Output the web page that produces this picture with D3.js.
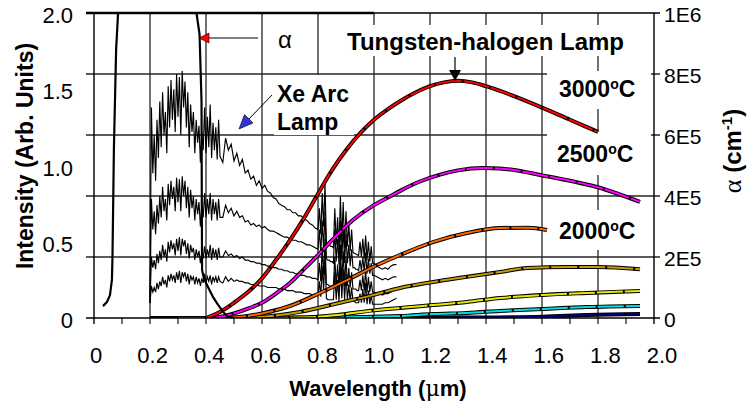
<!DOCTYPE html>
<html><head><meta charset="utf-8">
<script src="https://cdn.jsdelivr.net/npm/d3@7"></script>
<style>
html,body{margin:0;padding:0;background:#fff;}
svg{display:block;}
text{font-family:"Liberation Sans",Arial,sans-serif;fill:#000;}
</style></head><body>
<svg id="chart" width="748" height="406"></svg>
<script>
// ---------- DATA ----------
const xTickValues = [0,0.2,0.4,0.6,0.8,1.0,1.2,1.4,1.6,1.8,2.0];
const xTickLabels = ["0","0.2","0.4","0.6","0.8","1.0","1.2","1.4","1.6","1.8","2.0"];
const xMinorTicks = [0.1,0.3,0.5,0.7,0.9,1.1,1.3,1.5,1.7,1.9];
const leftTickValues = [0,0.5,1.0,1.5,2.0];
const leftTickLabels = ["0","0.5","1.0","1.5","2.0"];
const rightTickValues = [0,2e5,4e5,6e5,8e5,1e6];
const rightTickLabels = ["0","2E5","4E5","6E5","8E5","1E6"];

// Xe arc lamp spectra (wavelength µm, intensity arb. units)
const xeWavelength = [
 0.200,0.205,0.210,0.215,0.220,0.225,0.230,0.235,0.240,0.245,0.250,0.255,0.260,0.265,0.270,0.275,0.280,0.285,0.290,0.295,0.300,0.305,0.310,0.315,0.320,0.325,0.330,0.335,0.340,0.345,0.350,0.355,0.360,0.365,0.370,0.375,0.380,0.385,0.390,0.395,0.400,0.405,0.410,0.415,0.420,0.425,0.430,0.435,0.440,0.445,0.450,
 0.46,0.47,0.48,0.49,0.50,0.51,0.52,0.53,0.54,0.55,0.56,0.57,0.58,0.59,0.60,0.61,0.62,0.63,0.64,0.65,0.66,0.67,0.68,0.69,0.70,0.71,0.72,0.73,0.74,0.75,0.76,0.77,0.78,0.79,
 0.800,0.805,0.810,0.815,0.820,0.825,0.830,0.835,0.840,0.845,0.850,0.855,0.860,0.865,0.870,0.875,0.880,0.885,0.890,0.895,0.900,0.905,0.910,0.915,0.920,0.925,0.930,0.935,0.940,0.945,0.950,0.955,0.960,0.965,0.970,0.975,0.980,0.985,0.990,0.995,1.000,
 1.01,1.02,1.03,1.04,1.05,1.06,1.07,1.08];
const xe1 = [
 0.12,1.38,0.95,1.20,0.90,1.30,1.05,1.42,1.12,1.48,1.20,1.35,1.08,1.52,1.25,1.56,1.30,1.50,1.22,1.60,1.32,1.58,1.20,1.62,1.38,1.55,1.25,1.48,1.12,1.40,1.22,1.35,1.08,1.30,1.15,1.26,1.02,1.22,1.10,1.38,1.08,1.32,1.12,1.40,1.05,1.28,1.10,1.25,1.04,1.30,1.06,
 1.02,1.18,1.10,1.14,1.03,1.08,1.00,1.04,0.95,0.97,0.91,0.93,0.87,0.90,0.85,0.87,0.83,0.82,0.79,0.78,0.75,0.74,0.73,0.71,0.71,0.69,0.69,0.67,0.67,0.65,0.64,0.62,0.61,0.59,
 0.58,0.72,0.55,0.82,0.60,0.88,0.50,0.48,0.48,0.47,0.47,0.46,0.72,0.48,0.66,0.45,0.80,0.50,0.76,0.46,0.70,0.47,0.62,0.44,0.58,0.43,0.425,0.42,0.415,0.41,0.50,0.40,0.52,0.39,0.54,0.38,0.50,0.37,0.47,0.36,0.36,
 0.34,0.33,0.32,0.33,0.32,0.34,0.35,0.35];
const xe2 = [
 0.10,0.78,0.58,0.70,0.55,0.74,0.62,0.80,0.66,0.86,0.70,0.78,0.64,0.88,0.74,0.90,0.78,0.86,0.70,0.92,0.76,0.91,0.70,0.93,0.80,0.90,0.72,0.86,0.66,0.84,0.72,0.80,0.64,0.78,0.68,0.76,0.60,0.74,0.66,0.82,0.66,0.78,0.68,0.82,0.64,0.78,0.68,0.76,0.64,0.78,0.66,
 0.66,0.74,0.69,0.72,0.67,0.70,0.66,0.67,0.63,0.64,0.61,0.62,0.60,0.61,0.59,0.60,0.58,0.57,0.57,0.56,0.55,0.54,0.53,0.53,0.52,0.51,0.51,0.50,0.50,0.49,0.48,0.48,0.47,0.46,
 0.45,0.58,0.42,0.64,0.45,0.70,0.39,0.38,0.38,0.37,0.37,0.36,0.58,0.37,0.52,0.35,0.64,0.38,0.60,0.36,0.55,0.36,0.48,0.34,0.45,0.33,0.33,0.32,0.32,0.31,0.38,0.31,0.40,0.30,0.43,0.29,0.39,0.29,0.36,0.28,0.28,
 0.27,0.26,0.25,0.26,0.25,0.26,0.27,0.27];
const xe3 = [
 0.10,0.40,0.33,0.38,0.32,0.42,0.36,0.44,0.38,0.48,0.40,0.45,0.37,0.50,0.43,0.51,0.45,0.49,0.41,0.52,0.44,0.53,0.41,0.52,0.47,0.51,0.42,0.49,0.39,0.48,0.43,0.46,0.38,0.45,0.40,0.44,0.36,0.43,0.39,0.47,0.39,0.45,0.40,0.48,0.38,0.46,0.40,0.45,0.38,0.46,0.40,
 0.40,0.44,0.41,0.42,0.40,0.41,0.39,0.40,0.38,0.38,0.37,0.37,0.36,0.36,0.35,0.35,0.34,0.34,0.33,0.33,0.32,0.32,0.31,0.31,0.30,0.30,0.29,0.29,0.28,0.28,0.27,0.27,0.26,0.26,
 0.25,0.36,0.24,0.46,0.28,0.52,0.22,0.22,0.21,0.21,0.21,0.21,0.40,0.21,0.35,0.20,0.48,0.22,0.44,0.21,0.40,0.21,0.33,0.20,0.30,0.19,0.19,0.19,0.18,0.18,0.25,0.18,0.28,0.18,0.32,0.17,0.27,0.17,0.24,0.17,0.17,
 0.16,0.16,0.15,0.16,0.16,0.17,0.18,0.19];
const xe4 = [
 0.10,0.21,0.17,0.20,0.17,0.23,0.19,0.24,0.21,0.27,0.22,0.25,0.20,0.28,0.24,0.29,0.25,0.28,0.23,0.30,0.25,0.31,0.23,0.30,0.27,0.30,0.24,0.29,0.22,0.28,0.25,0.27,0.22,0.27,0.23,0.26,0.21,0.26,0.23,0.29,0.23,0.27,0.24,0.28,0.22,0.27,0.24,0.27,0.23,0.27,0.24,
 0.23,0.27,0.24,0.26,0.24,0.25,0.24,0.24,0.23,0.23,0.22,0.22,0.22,0.21,0.21,0.21,0.20,0.20,0.20,0.20,0.19,0.19,0.19,0.18,0.18,0.18,0.17,0.17,0.17,0.16,0.16,0.16,0.15,0.15,
 0.15,0.24,0.14,0.34,0.18,0.40,0.13,0.12,0.12,0.12,0.12,0.12,0.30,0.12,0.25,0.11,0.36,0.13,0.32,0.12,0.29,0.12,0.22,0.11,0.20,0.11,0.11,0.10,0.10,0.10,0.16,0.10,0.19,0.10,0.23,0.09,0.18,0.09,0.15,0.09,0.09,
 0.09,0.09,0.09,0.10,0.10,0.11,0.12,0.13];

// Tungsten-halogen lamp spectra [wavelength µm, intensity]
const w3000 = [[0.40,0.00],[0.45,0.04],[0.50,0.10],[0.55,0.17],[0.60,0.26],[0.65,0.38],[0.70,0.51],[0.75,0.655],[0.80,0.815],[0.85,0.97],[0.90,1.10],[0.95,1.21],[1.00,1.30],[1.05,1.37],[1.10,1.43],[1.15,1.48],[1.20,1.52],[1.25,1.545],[1.30,1.555],[1.35,1.545],[1.40,1.52],[1.50,1.455],[1.60,1.38],[1.70,1.30],[1.80,1.22]];
const w2500 = [[0.40,0.00],[0.46,0.01],[0.50,0.03],[0.557,0.066],[0.60,0.10],[0.657,0.17],[0.70,0.23],[0.75,0.32],[0.807,0.426],[0.85,0.51],[0.925,0.643],[1.00,0.74],[1.05,0.79],[1.10,0.84],[1.157,0.89],[1.236,0.94],[1.30,0.968],[1.389,0.984],[1.45,0.98],[1.50,0.97],[1.593,0.938],[1.70,0.90],[1.796,0.859],[1.95,0.761]];
const w2000 = [[0.45,0.00],[0.52,0.007],[0.60,0.03],[0.689,0.072],[0.807,0.164],[0.904,0.249],[0.996,0.334],[1.093,0.413],[1.211,0.498],[1.332,0.557],[1.45,0.59],[1.55,0.592],[1.618,0.577]];
const w1750 = [[0.45,0.00],[0.593,0.007],[0.736,0.04],[0.879,0.10],[0.996,0.15],[1.093,0.197],[1.211,0.236],[1.332,0.27],[1.45,0.302],[1.55,0.328],[1.69,0.334],[1.80,0.334],[1.95,0.32]];
const w1500 = [[0.60,0.00],[0.77,0.005],[0.87,0.02],[1.00,0.05],[1.093,0.066],[1.211,0.085],[1.332,0.105],[1.45,0.131],[1.604,0.151],[1.761,0.164],[1.95,0.177]];
const w1250 = [[0.30,0.00],[0.80,0.003],[1.093,0.013],[1.211,0.026],[1.332,0.033],[1.45,0.046],[1.604,0.059],[1.761,0.072],[1.95,0.079]];
const w1000 = [[0.20,0.00],[1.00,0.00],[1.33,0.003],[1.604,0.009],[1.761,0.02],[1.95,0.026]];
const tungstenColors = ["#000080","#00e0e0","#e8e800","#c89b00","#ff6600","#ff00ff","#ff0000"];

// Absorption coefficient alpha (wavelength µm, cm^-1), right axis
const alphaWavelength = [0.032,0.046,0.057,0.064,0.066,0.071,0.079,0.086,0.09,0.36,0.366,0.377,0.384,0.385,0.386,0.393,0.407,0.425,0.439,0.461,0.479,0.50];
const alphaValue = [3.9e4,5.2e4,7.5e4,1.25e5,2.0e5,5.5e5,8.8e5,1.0e6,1.2e6,1.2e6,1.0e6,9.3e5,7.1e5,3.9e5,1.57e5,1.28e5,1.02e5,6.9e4,4.9e4,2.0e4,3e3,0];

// ---------- CHART ----------
const svg = d3.select("#chart");
const x = d3.scaleLinear().domain([0,2]).range([94,654]);
const xLab = d3.scaleLinear().domain([0,2]).range([96,662]);
const yL = d3.scaleLinear().domain([0,2]).range([318,13]);
const yR = d3.scaleLinear().domain([0,1e6]).range([318,13]);

svg.append("defs").append("clipPath").attr("id","plotclip")
  .append("rect").attr("x",x(0)).attr("y",yR(1e6)).attr("width",x(2)-x(0)).attr("height",yR(0)-yR(1e6));

// grid + ticks
const gridG = svg.append("g");
function gl(x1,y1,x2,y2){
  gridG.append("line").attr("x1",x1).attr("y1",y1).attr("x2",x2).attr("y2",y2)
    .attr("stroke","#262626").attr("stroke-width",1.3);
}
xTickValues.slice(1,-1).forEach(d=>gl(x(d),yR(1e6),x(d),yR(0)+6));
rightTickValues.slice(1,-1).forEach(d=>gl(x(0)-8,yR(d),x(2)+6,yR(d)));
xMinorTicks.forEach(d=>gl(x(d),yR(0),x(d),yR(0)+6));

// label backgrounds (white boxes that interrupt the grid)
const boxG = svg.append("g");
[[340,25,293,31],[547,71,104,38],[547,132,104,43],[548,210,103,40],[274,75,80,60]].forEach(b=>{
  boxG.append("rect").attr("x",b[0]).attr("y",b[1]).attr("width",b[2]).attr("height",b[3]).attr("fill","#fff");
});

const plot = svg.append("g").attr("clip-path","url(#plotclip)");

// Xe arc lamp curves
const xeLine = d3.line().x(d=>x(d[0])).y(d=>yL(d[1]));
[xe1,xe2,xe3,xe4].forEach(s=>{
  const pts = xeWavelength.map((w,i)=>[w,s[i]]).filter(d=>d[1]!==undefined);
  plot.append("path").attr("d",xeLine(pts)).attr("fill","none")
    .attr("stroke","#000").attr("stroke-width",1.15);
});

// tungsten-halogen curves
const wLine = d3.line().x(d=>x(d[0])).y(d=>yL(d[1])).curve(d3.curveMonotoneX);
[w1000,w1250,w1500,w1750,w2000,w2500,w3000].forEach((s,i)=>{
  plot.append("path").attr("d",wLine(s)).attr("fill","none").attr("stroke","#000").attr("stroke-width",4);
  plot.append("path").attr("d",wLine(s)).attr("fill","none").attr("stroke",tungstenColors[i]).attr("stroke-width",2)
    .attr("stroke-dasharray","26,2");
});

// alpha curve
const aLine = d3.line().x(d=>x(d[0])).y(d=>yR(d[1]));
plot.append("path").attr("d",aLine(alphaWavelength.map((w,i)=>[w,alphaValue[i]])))
  .attr("fill","none").attr("stroke","#000").attr("stroke-width",2.2);

// frame
const fr = svg.append("g");
function fl(x1,y1,x2,y2,w){
  fr.append("line").attr("x1",x1).attr("y1",y1).attr("x2",x2).attr("y2",y2).attr("stroke","#000").attr("stroke-width",w);
}
fl(x(0),yR(1e6),x(0),yR(0)+6,1.4);
fl(x(2),yR(1e6),x(2),yR(0)+6,1.4);
fl(x(0)-8,yR(0),x(2)+6,yR(0),1.6);
fl(x(1.0),yR(1e6),x(2)+6,yR(1e6),1.3);
fl(x(0)-8,yR(1e6),x(1.0),yR(1e6),2.6);

// tick labels
const tl = svg.append("g");
xTickValues.forEach((d,i)=>tl.append("text").attr("x",xLab(d)).attr("y",363)
  .attr("text-anchor","middle").attr("font-size",22).text(xTickLabels[i]));
leftTickValues.forEach((d,i)=>tl.append("text").attr("x",73).attr("y",yL(d)+10)
  .attr("text-anchor","end").attr("font-size",22).text(leftTickLabels[i]));
rightTickValues.forEach((d,i)=>tl.append("text").attr("x",664).attr("y",yR(d)+9)
  .attr("text-anchor","start").attr("font-size",21).text(rightTickLabels[i]));

// axis titles
svg.append("text").attr("x",378).attr("y",396).attr("text-anchor","middle")
  .attr("font-size",22).attr("font-weight","bold")
  .html('Wavelength (<tspan font-family="DejaVu Serif, serif" font-weight="normal">μ</tspan>m)');
svg.append("text").attr("transform","translate(33,156) rotate(-90)").attr("text-anchor","middle")
  .attr("font-size",23).attr("font-weight","bold").text("Intensity (Arb. Units)");
svg.append("text").attr("transform","translate(741,151) rotate(-90)").attr("text-anchor","middle")
  .attr("font-size",24).attr("font-weight","bold")
  .html('<tspan font-family="Liberation Serif, serif" font-weight="normal" font-size="26">α</tspan> (cm<tspan font-size="15" dy="-9">-1</tspan><tspan dy="9">)</tspan>');

// annotations
svg.append("text").attr("x",347).attr("y",50).attr("font-size",23).attr("font-weight","bold")
  .attr("textLength",277).attr("lengthAdjust","spacingAndGlyphs").text("Tungsten-halogen Lamp");
svg.append("text").attr("x",277).attr("y",102).attr("font-size",23).attr("font-weight","bold").text("Xe Arc");
svg.append("text").attr("x",277).attr("y",130).attr("font-size",23).attr("font-weight","bold").text("Lamp");
[["3000",559,97],["2500",557,162],["2000",559,239]].forEach(t=>{
  svg.append("text").attr("x",t[1]).attr("y",t[2]).attr("font-size",23).attr("font-weight","bold")
    .html(t[0]+'<tspan font-size="14" dy="-8">o</tspan><tspan dy="8">C</tspan>');
});
svg.append("text").attr("x",278).attr("y",48).attr("font-size",24)
  .attr("font-family","Liberation Serif, serif").text("α");

// arrows
svg.append("line").attr("x1",208).attr("x2",258).attr("y1",38).attr("y2",38).attr("stroke","#000").attr("stroke-width",1);
svg.append("path").attr("d","M199,38 L209,33 L209,43 Z").attr("fill","#ff0000").attr("stroke","#000").attr("stroke-width",0.6);
svg.append("line").attr("x1",272).attr("y1",95).attr("x2",249).attr("y2",119).attr("stroke","#000").attr("stroke-width",1);
svg.append("path").attr("d","M239,129 L253,123 L244.5,114.5 Z").attr("fill","#3333dd").attr("stroke","#000").attr("stroke-width",0.6);
svg.append("line").attr("x1",455).attr("x2",455).attr("y1",57).attr("y2",71).attr("stroke","#000").attr("stroke-width",1.2);
svg.append("path").attr("d","M449,70 L461,70 L455,81 Z").attr("fill","#000");
</script>
</body></html>
